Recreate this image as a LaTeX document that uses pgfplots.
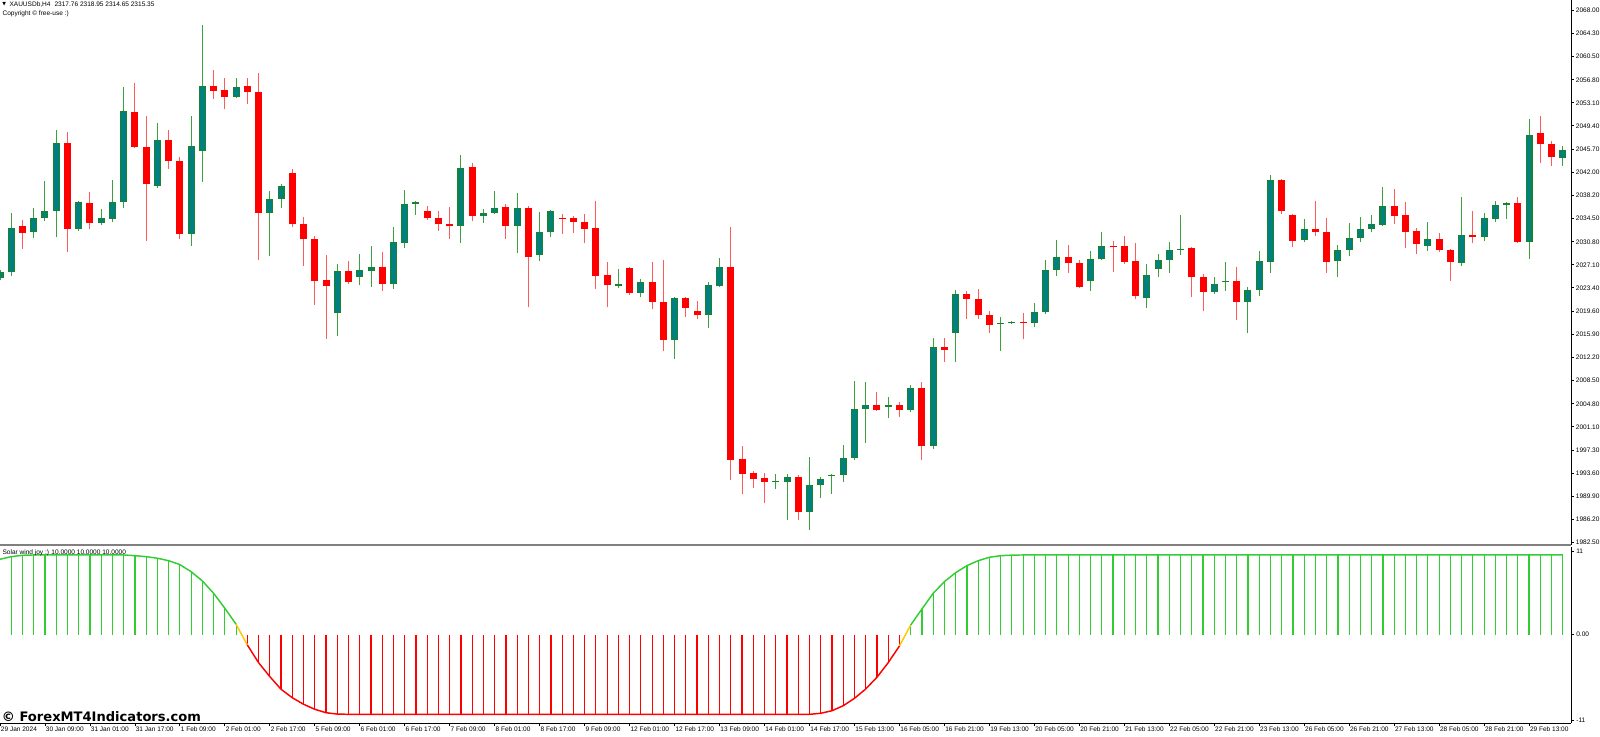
\documentclass[border=0pt]{standalone}
\usepackage{fontspec}
\setmainfont{Liberation Sans}
\newfontfamily\wmfont{DejaVu Sans}
\usepackage{pgfplots}
\usepackage{pgfplotstable}
\pgfplotsset{compat=1.18}

\definecolor{bullfill}{RGB}{0,128,128}
\definecolor{bulledge}{RGB}{25,130,45}
\definecolor{bullwick}{RGB}{60,160,60}
\definecolor{bearc}{RGB}{255,0,0}
\definecolor{bearwick}{RGB}{255,90,90}
\definecolor{indg}{RGB}{50,205,50}
\definecolor{indr}{RGB}{255,0,0}
\definecolor{indy}{RGB}{255,200,0}
\definecolor{sepgray}{RGB}{128,128,128}
\newcommand\mtfont{\fontsize{4.9}{5.9}\selectfont}

\pgfplotstableread{
i o h l c
0 2024.98 2026.27 2024.66 2025.95
1 2025.95 2035.42 2025.30 2033.01
3 2032.37 2036.22 2031.40 2034.61
4 2034.61 2040.55 2034.13 2035.74
5 2035.74 2048.74 2031.56 2046.65
7 2032.85 2037.34 2032.53 2037.18
9 2033.81 2036.06 2033.49 2034.61
10 2034.45 2040.71 2033.97 2037.18
11 2037.18 2055.64 2036.22 2051.79
14 2039.75 2049.86 2039.43 2047.13
17 2032.05 2050.99 2030.12 2046.17
18 2045.37 2065.59 2040.39 2055.80
21 2054.04 2057.09 2053.88 2055.64
24 2035.42 2038.95 2028.51 2037.66
25 2037.66 2040.07 2036.22 2039.75
30 2019.37 2027.23 2015.67 2026.11
32 2025.14 2028.84 2023.86 2026.27
33 2026.11 2030.12 2023.54 2026.75
35 2024.02 2033.17 2023.22 2030.76
36 2030.60 2039.11 2029.80 2036.86
37 2036.86 2037.34 2035.10 2037.18
41 2033.33 2044.73 2030.60 2042.64
43 2034.94 2036.06 2033.81 2035.42
44 2035.42 2038.95 2035.26 2036.22
46 2033.33 2038.63 2029.00 2036.22
48 2028.68 2035.58 2027.71 2032.37
49 2032.37 2035.90 2031.56 2035.74
55 2023.70 2026.43 2023.38 2024.02
57 2022.58 2024.82 2021.93 2024.34
60 2015.03 2021.93 2011.98 2021.77
63 2019.04 2024.34 2016.96 2023.86
64 2023.70 2028.19 2023.54 2026.75
69 1992.24 1993.52 1991.12 1992.40
70 1992.24 1993.52 1986.14 1993.04
72 1987.42 1996.25 1984.53 1991.76
73 1991.76 1993.04 1989.67 1992.72
74 1993.20 1993.52 1990.31 1993.36
75 1993.36 1998.18 1992.24 1996.09
76 1996.09 2008.45 1995.77 2003.96
77 2003.96 2008.29 1998.50 2004.60
79 2004.28 2005.88 2002.51 2004.60
81 2003.80 2007.81 2003.47 2007.33
83 1998.02 2015.35 1997.54 2013.91
85 2016.16 2023.06 2011.50 2022.42
89 2017.60 2018.72 2013.27 2017.76
90 2017.76 2018.08 2017.60 2017.92
92 2017.76 2020.97 2017.12 2019.53
93 2019.53 2027.87 2019.21 2026.27
94 2026.27 2031.08 2025.30 2028.35
97 2024.50 2029.32 2022.90 2028.03
98 2028.03 2032.37 2027.87 2030.12
102 2021.77 2027.23 2020.17 2025.47
103 2026.43 2028.84 2025.14 2027.87
104 2027.87 2030.76 2025.79 2029.48
105 2029.48 2035.10 2028.68 2029.64
108 2022.74 2025.14 2022.42 2024.02
109 2024.34 2027.55 2022.90 2024.50
111 2021.13 2023.54 2016.16 2023.06
112 2023.06 2029.32 2022.09 2027.71
113 2027.55 2041.52 2025.79 2040.71
116 2031.08 2034.45 2030.76 2032.85
119 2027.71 2030.28 2025.14 2029.48
120 2029.48 2033.81 2028.51 2031.40
121 2031.40 2034.77 2030.76 2032.85
122 2032.85 2035.10 2032.37 2033.65
123 2033.49 2039.59 2033.33 2036.54
127 2030.12 2033.97 2029.32 2031.24
130 2027.39 2037.98 2026.91 2031.89
132 2031.56 2035.42 2030.92 2034.61
133 2034.45 2037.34 2033.97 2036.70
134 2036.70 2037.18 2034.45 2037.02
136 2030.76 2050.50 2028.03 2047.94
139 2044.24 2046.17 2042.96 2045.53
}\bull

\pgfplotstableread{
i o h l c
2 2033.33 2034.29 2029.64 2032.21
6 2046.65 2048.42 2029.16 2032.85
8 2037.02 2038.79 2032.85 2033.81
12 2051.63 2056.28 2045.85 2046.01
13 2046.01 2050.99 2030.92 2040.07
15 2047.13 2048.74 2042.48 2043.76
16 2043.76 2044.41 2031.24 2032.05
19 2055.80 2058.37 2053.71 2055.00
20 2055.16 2057.09 2052.11 2054.04
22 2055.80 2057.09 2052.91 2054.84
23 2054.84 2057.89 2027.87 2035.42
26 2041.84 2042.48 2033.17 2033.65
27 2033.65 2034.77 2026.91 2031.24
28 2031.24 2031.73 2020.65 2024.50
29 2024.66 2028.68 2015.19 2023.70
31 2026.11 2027.71 2024.02 2024.34
34 2026.75 2029.16 2022.90 2024.02
38 2035.74 2036.54 2034.29 2034.61
39 2034.61 2035.74 2032.53 2033.65
40 2033.65 2036.38 2031.24 2033.33
42 2042.80 2043.44 2034.13 2034.94
45 2036.38 2036.86 2031.24 2033.33
47 2036.22 2036.54 2020.33 2028.35
50 2034.61 2035.26 2032.05 2034.45
51 2034.61 2034.94 2032.21 2033.97
52 2033.97 2035.26 2030.60 2032.85
53 2033.01 2037.34 2023.22 2025.30
54 2025.47 2027.55 2020.33 2023.86
56 2026.59 2026.75 2022.26 2022.58
58 2024.34 2027.55 2020.01 2021.13
59 2021.13 2027.87 2013.27 2015.03
61 2021.77 2021.93 2018.72 2020.17
62 2019.69 2021.29 2018.40 2019.04
65 2026.75 2033.17 1992.56 1995.77
66 1995.93 1998.02 1990.31 1993.52
67 1993.68 1994.00 1991.28 1992.72
68 1992.88 1993.68 1988.87 1992.24
71 1993.04 1993.36 1986.14 1987.42
78 2004.60 2006.69 2003.64 2003.80
80 2004.60 2005.08 2002.67 2003.80
82 2007.33 2008.29 1995.77 1998.02
84 2013.91 2015.35 2011.50 2013.43
86 2022.42 2022.90 2018.40 2021.61
87 2021.61 2023.22 2018.40 2019.04
88 2019.04 2019.69 2016.16 2017.44
91 2017.92 2019.37 2015.19 2017.76
95 2028.35 2030.28 2025.79 2027.39
96 2027.39 2027.87 2023.38 2023.54
99 2030.12 2030.92 2025.95 2029.96
100 2030.12 2031.73 2027.23 2027.55
101 2027.71 2030.60 2021.61 2022.09
106 2029.80 2029.96 2021.93 2025.14
107 2025.14 2025.63 2019.69 2022.74
110 2024.50 2026.75 2018.24 2021.13
114 2040.71 2040.87 2035.26 2035.74
115 2035.10 2035.26 2029.96 2030.92
117 2032.85 2037.34 2031.73 2032.37
118 2032.37 2034.61 2025.79 2027.55
124 2036.54 2039.27 2033.65 2034.94
125 2035.10 2037.18 2029.80 2032.37
126 2032.53 2033.01 2028.84 2030.44
128 2031.24 2032.21 2029.16 2029.48
129 2029.48 2029.64 2024.50 2027.55
131 2031.89 2035.74 2030.60 2031.56
135 2037.02 2037.98 2030.60 2030.76
137 2048.26 2050.99 2043.44 2046.49
138 2046.49 2046.97 2042.96 2044.41
}\bear

\pgfplotstableread{
i v
0 9.46
1 9.79
2 9.96
3 10
4 10
5 10
6 10
7 10
8 10
9 10
10 10
11 10
12 9.91
13 9.79
14 9.59
15 9.28
16 8.79
17 7.90
18 6.74
19 5.19
20 3.31
21 1.30
22 -1.30
23 -3.52
24 -5.27
25 -6.86
26 -7.92
27 -8.74
28 -9.37
29 -9.80
30 -9.97
31 -10
32 -10
33 -10
34 -10
35 -10
36 -10
37 -10
38 -10
39 -10
40 -10
41 -10
42 -10
43 -10
44 -10
45 -10
46 -10
47 -10
48 -10
49 -10
50 -10
51 -10
52 -10
53 -10
54 -10
55 -10
56 -10
57 -10
58 -10
59 -10
60 -10
61 -10
62 -10
63 -10
64 -10
65 -10
66 -10
67 -10
68 -10
69 -10
70 -10
71 -10
72 -10
73 -9.87
74 -9.55
75 -8.92
76 -7.99
77 -6.82
78 -5.35
79 -3.52
80 -1.42
81 1.21
82 3.22
83 5.19
84 6.65
85 7.78
86 8.66
87 9.28
88 9.71
89 9.91
90 9.98
91 10
92 10
93 10
94 10
95 10
96 10
97 10
98 10
99 10
100 10
101 10
102 10
103 10
104 10
105 10
106 10
107 10
108 10
109 10
110 10
111 10
112 10
113 10
114 10
115 10
116 10
117 10
118 10
119 10
120 10
121 10
122 10
123 10
124 10
125 10
126 10
127 10
128 10
129 10
130 10
131 10
132 10
133 10
134 10
135 10
136 10
137 10
138 10
139 10
}\ind

\begin{document}
\begin{tikzpicture}[x=0.75pt,y=0.75pt]
\useasboundingbox (0,0) rectangle (1600,736);

% ---------- price panel ----------
\begin{axis}[
  at={(0pt,143.25pt)}, anchor=south west,
  scale only axis, width=1178.25pt, height=408.75pt,
  xmin=0, xmax=139.73, ymin=1982.13, ymax=2069.605,
  axis x line=none, axis y line*=right,
  axis line style={-, black, line width=0.7pt},
  ytick={1982.5,1986.2,1989.9,1993.6,1997.3,2001.1,2004.8,2008.5,2012.2,2015.9,2019.6,2023.4,2027.1,2030.8,2034.5,2038.2,2042.0,2045.7,2049.4,2053.1,2056.8,2060.5,2064.3,2068.0},
  scaled y ticks=false,
  /pgf/number format/.cd, fixed, fixed zerofill, precision=2, 1000 sep={}, assume math mode=true,
  /pgfplots/.cd,
  tick align=outside, major tick length=2.25pt,
  tick style={black, line width=0.6pt},
  yticklabel style={font=\mtfont, anchor=west, inner sep=0pt, xshift=1.2pt, text=black},
]
% bullish wicks
\addplot[draw=none, mark=none, forget plot,
  error bars/.cd, y dir=plus, y explicit, error mark=none,
  error bar style={draw=bullwick, line width=0.75pt}]
  table[x=i, y=l, y error expr={\thisrow{h}-\thisrow{l}}] {\bull};
% bearish wicks
\addplot[draw=none, mark=none, forget plot,
  error bars/.cd, y dir=plus, y explicit, error mark=none,
  error bar style={draw=bearwick, line width=0.75pt}]
  table[x=i, y=l, y error expr={\thisrow{h}-\thisrow{l}}] {\bear};
% bullish bodies: edge
\addplot[draw=none, mark=none, forget plot,
  error bars/.cd, y dir=plus, y explicit, error mark=none,
  error bar style={draw=bulledge, line width=5.25pt}]
  table[x=i, y=o, y error expr={max(\thisrow{c}-\thisrow{o},0.17)}] {\bull};
% bullish bodies: fill
\addplot[draw=none, mark=none, forget plot,
  error bars/.cd, y dir=plus, y explicit, error mark=none,
  error bar style={draw=bullfill, line width=3.6pt}]
  table[x=i, y expr={\thisrow{o}+0.17}, y error expr={max(\thisrow{c}-\thisrow{o}-0.34,0)}] {\bull};
% bearish bodies
\addplot[draw=none, mark=none, forget plot,
  error bars/.cd, y dir=plus, y explicit, error mark=none,
  error bar style={draw=bearc, line width=5.25pt}]
  table[x=i, y=c, y error expr={max(\thisrow{o}-\thisrow{c},0.17)}] {\bear};
\end{axis}

% ---------- indicator panel ----------
\begin{axis}[
  at={(0pt,9.75pt)}, anchor=south west,
  scale only axis, width=1178.25pt, height=132pt,
  xmin=0, xmax=139.73, ymin=-11.09, ymax=11.0,
  axis x line*=bottom, axis y line*=right,
  axis line style={-, black, line width=0.7pt},
  tick align=outside, major tick length=2.6pt,
  tick style={black, line width=0.6pt},
  xtick={0,4,...,136},
  xticklabels={29 Jan 2024,30 Jan 09:00,31 Jan 01:00,31 Jan 17:00,1 Feb 09:00,2 Feb 01:00,2 Feb 17:00,5 Feb 09:00,6 Feb 01:00,6 Feb 17:00,7 Feb 09:00,8 Feb 01:00,8 Feb 17:00,9 Feb 09:00,12 Feb 01:00,12 Feb 17:00,13 Feb 09:00,14 Feb 01:00,14 Feb 17:00,15 Feb 13:00,16 Feb 05:00,16 Feb 21:00,19 Feb 13:00,20 Feb 05:00,20 Feb 21:00,21 Feb 13:00,22 Feb 05:00,22 Feb 21:00,23 Feb 13:00,26 Feb 05:00,26 Feb 21:00,27 Feb 13:00,28 Feb 05:00,28 Feb 21:00,29 Feb 13:00},
  xticklabel style={font=\mtfont, anchor=north west, inner sep=0pt, xshift=0.5pt, yshift=-0.3pt, text=black},
  ytick={-10.72,0,10.41},
  yticklabels={-11,0.00,11},
  yticklabel style={font=\mtfont, anchor=west, inner sep=0pt, xshift=1.2pt, text=black},
]
\addplot[ycomb, indg, line width=0.9pt, mark=none, forget plot, restrict x to domain=1:21] table[x=i,y=v] {\ind};
\addplot[ycomb, indr, line width=0.9pt, mark=none, forget plot, restrict x to domain=22:80] table[x=i,y=v] {\ind};
\addplot[ycomb, indg, line width=0.9pt, mark=none, forget plot, restrict x to domain=81:139] table[x=i,y=v] {\ind};
\addplot[indg, line width=1.1pt, mark=none, forget plot, restrict x to domain=0:21] table[x=i,y=v] {\ind};
\addplot[indy, line width=1.1pt, mark=none, forget plot, restrict x to domain=21:22] table[x=i,y=v] {\ind};
\addplot[indr, line width=1.1pt, mark=none, forget plot, restrict x to domain=22:80] table[x=i,y=v] {\ind};
\addplot[indy, line width=1.1pt, mark=none, forget plot, restrict x to domain=80:81] table[x=i,y=v] {\ind};
\addplot[indg, line width=1.1pt, mark=none, forget plot, restrict x to domain=81:139] table[x=i,y=v] {\ind};
\end{axis}

% separator between panels
\draw[sepgray, line width=1.5pt] (0,190.5) -- (1571,190.5);

% texts
\node[anchor=west, inner sep=0pt, font=\wmfont\fontsize{3.6}{4}\selectfont] at (2,731.3) {▼};
\node[anchor=west, inner sep=0pt, font=\mtfont] at (9.3,731.5) {XAUUSDb,H4\hspace{3pt}2317.76 2318.95 2314.65 2315.35};
\node[anchor=west, inner sep=0pt, font=\mtfont] at (2.3,722.5) {Copyright © free-use :)};
\node[anchor=west, inner sep=0pt, font=\mtfont] at (2.3,183.5) {Solar wind joy :) 10.0000 10.0000 10.0000};
\node[anchor=base west, inner sep=0pt, font=\wmfont\bfseries\fontsize{9.8}{11}\selectfont] at (1.7,14.5) {© ForexMT4Indicators.com};
\end{tikzpicture}
\end{document}
